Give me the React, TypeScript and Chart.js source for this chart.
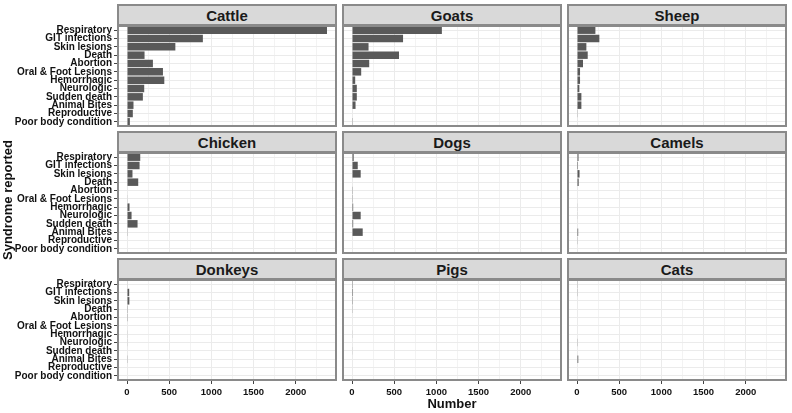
import React, { useEffect, useRef } from "react";
import { Chart, registerables } from "chart.js";

Chart.register(...registerables);

// ---- Data ----
const syndromes = [
  "Respiratory",
  "GIT infections",
  "Skin lesions",
  "Death",
  "Abortion",
  "Oral & Foot Lesions",
  "Hemorrhagic",
  "Neurologic",
  "Sudden death",
  "Animal Bites",
  "Reproductive",
  "Poor body condition",
];

const cattle = [2370, 899, 573, 208, 307, 426, 442, 204, 188, 77, 69, 34];
const goats = [1065, 605, 196, 557, 204, 109, 38, 57, 57, 42, 6, 3];
const sheep = [218, 265, 111, 127, 71, 36, 36, 28, 52, 52, 8, 0];
const chicken = [157, 149, 65, 133, 0, 5, 30, 54, 125, 8, 0, 0];
const dogs = [20, 68, 103, 6, 3, 3, 14, 103, 14, 127, 0, 0];
const camels = [18, 12, 30, 20, 0, 0, 5, 5, 6, 14, 4, 0];
const donkeys = [5, 26, 28, 3, 3, 0, 5, 5, 0, 8, 0, 0];
const pigs = [10, 12, 10, 8, 0, 0, 5, 0, 5, 0, 0, 0];
const cats = [8, 8, 6, 0, 0, 0, 0, 8, 0, 15, 0, 0];

const panelTitles = ["Cattle", "Goats", "Sheep", "Chicken", "Dogs", "Camels", "Donkeys", "Pigs", "Cats"];
const panelValues = [cattle, goats, sheep, chicken, dogs, camels, donkeys, pigs, cats];

const xTickLabels = [0, 500, 1000, 1500, 2000];
const xMinorStep = 250;
const xTitle = "Number";
const yTitle = "Syndrome reported";

// ---- Layout / style ----
const FONT = '"Liberation Sans", Arial, Helvetica, sans-serif';
const COL_LEFT = [117, 342, 567];
const ROW_TOP = [4, 131, 258];
const PANEL_W = 220;
const STRIP_H = 21;
const PLOT_H = 102;
const Y_AXIS_W = 117;
const X_AXIS_H = 24;
const BORDER = "2px solid #8a8a8a";

function Panel({ index }: { index: number }) {
  const ref = useRef<HTMLCanvasElement | null>(null);
  const col = index % 3;
  const row = Math.floor(index / 3);
  const isLeft = col === 0;
  const isBottom = row === 2;
  const canvasLeft = isLeft ? COL_LEFT[col] - Y_AXIS_W : COL_LEFT[col];
  const canvasW = PANEL_W + (isLeft ? Y_AXIS_W : 0);
  const canvasTop = ROW_TOP[row] + STRIP_H;
  const canvasH = PLOT_H + (isBottom ? X_AXIS_H : 0);

  useEffect(() => {
    if (!ref.current) return;
    let maxVal = 0;
    panelValues.forEach((arr) => arr.forEach((v) => (maxVal = Math.max(maxVal, v))));
    const chart = new Chart(ref.current, {
      type: "bar",
      data: {
        labels: syndromes,
        datasets: [
          {
            data: panelValues[index],
            backgroundColor: "#595959",
            borderWidth: 0,
            barPercentage: 0.9,
            categoryPercentage: 1,
          },
        ],
      },
      options: {
        indexAxis: "y",
        animation: false,
        responsive: false,
        devicePixelRatio: 1,
        events: [],
        layout: { padding: { top: 1, bottom: 0, left: 0, right: 0 } },
        plugins: {
          legend: { display: false },
          tooltip: { enabled: false },
          title: { display: false },
        },
        scales: {
          x: {
            type: "linear",
            min: -0.05 * maxVal,
            max: 1.05 * maxVal,
            afterFit: (s: any) => {
              s.height = isBottom ? X_AXIS_H + 1 : 1;
              s.paddingLeft = 0;
              s.paddingRight = 0;
              s.paddingTop = 0;
              s.paddingBottom = 0;
            },
            border: { display: false },
            grid: {
              color: (ctx: any) =>
                ctx.tick && ctx.tick.value % 500 === 0 ? "#ebebeb" : "#f3f3f3",
              lineWidth: 1,
              drawTicks: isBottom,
              tickLength: 4,
              tickColor: (ctx: any) =>
                ctx.tick && xTickLabels.includes(ctx.tick.value) ? "#444444" : "rgba(0,0,0,0)",
            },
            ticks: {
              display: isBottom,
              stepSize: xMinorStep,
              includeBounds: false,
              autoSkip: false,
              maxRotation: 0,
              padding: 3,
              color: "#111111",
              font: { family: FONT, size: 9.5, weight: "bold" },
              callback: (v: any) => (xTickLabels.includes(Number(v)) ? String(v) : ""),
            },
          },
          y: {
            type: "category",
            afterFit: (s: any) => {
              s.width = isLeft ? Y_AXIS_W : 0;
              s.paddingLeft = 0;
              s.paddingRight = 0;
              s.paddingTop = 0;
              s.paddingBottom = 0;
            },
            border: { display: false },
            grid: {
              color: "#ebebeb",
              offset: false,
              drawTicks: isLeft,
              tickLength: 3,
              tickColor: "#444444",
            },
            ticks: {
              display: isLeft,
              autoSkip: false,
              padding: 2,
              color: "#111111",
              font: { family: FONT, size: 10, weight: "bold" },
            },
          },
        },
      },
    } as any);
    return () => chart.destroy();
  }, [index]);

  return (
    <>
      <canvas
        ref={ref}
        width={canvasW}
        height={canvasH}
        style={{
          position: "absolute",
          left: canvasLeft,
          top: canvasTop,
          width: canvasW,
          height: canvasH,
          display: "block",
        }}
      />
      <div
        style={{
          position: "absolute",
          left: COL_LEFT[col],
          top: ROW_TOP[row] + STRIP_H,
          width: PANEL_W,
          height: PLOT_H,
          boxSizing: "border-box",
          border: BORDER,
          pointerEvents: "none",
        }}
      />
      <div
        style={{
          position: "absolute",
          left: COL_LEFT[col],
          top: ROW_TOP[row],
          width: PANEL_W,
          height: STRIP_H + 1,
          boxSizing: "border-box",
          border: BORDER,
          background: "#d9d9d9",
          fontFamily: FONT,
          fontWeight: "bold",
          fontSize: 15,
          color: "#1a1a1a",
          display: "flex",
          alignItems: "center",
          justifyContent: "center",
          lineHeight: 1,
        }}
      >
        {panelTitles[index]}
      </div>
    </>
  );
}

export default function App() {
  return (
    <div
      style={{
        position: "absolute",
        left: 0,
        top: 0,
        width: 792,
        height: 413,
        background: "#ffffff",
        overflow: "hidden",
      }}
    >
      {panelTitles.map((_, i) => (
        <Panel key={i} index={i} />
      ))}
      <div
        style={{
          position: "absolute",
          left: 352,
          width: 200,
          top: 396,
          textAlign: "center",
          fontFamily: FONT,
          fontWeight: "bold",
          fontSize: 13,
          lineHeight: "16px",
          color: "#111111",
        }}
      >
        {xTitle}
      </div>
      <div
        style={{
          position: "absolute",
          left: 8 - 100,
          width: 200,
          top: 200 - 8,
          height: 16,
          textAlign: "center",
          fontFamily: FONT,
          fontWeight: "bold",
          fontSize: 13,
          lineHeight: "16px",
          color: "#111111",
          transform: "rotate(-90deg)",
          transformOrigin: "center center",
        }}
      >
        {yTitle}
      </div>
    </div>
  );
}
